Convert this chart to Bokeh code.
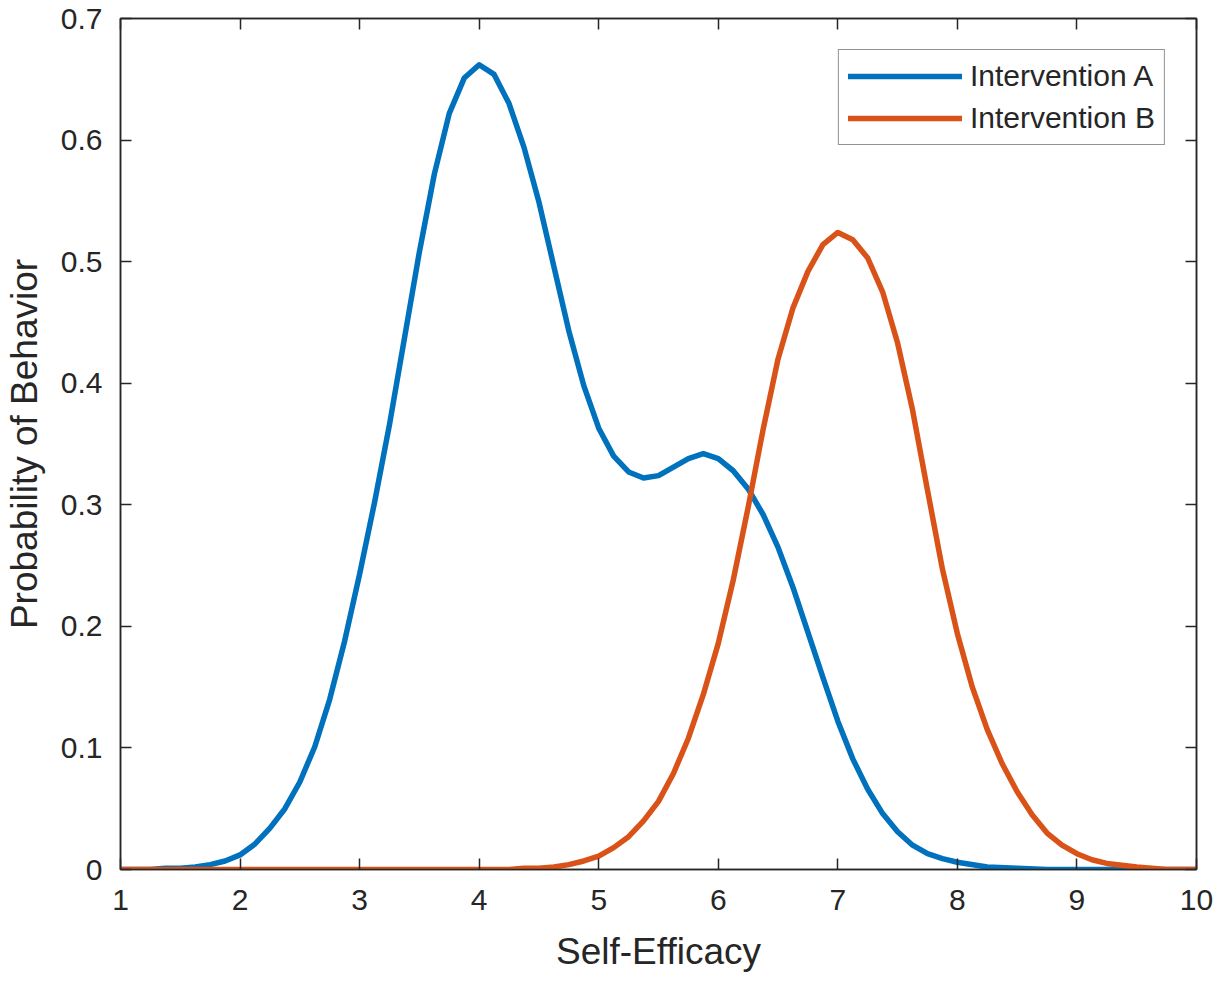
from bokeh.plotting import figure
from bokeh.models import Range1d, FixedTicker, LinearAxis, Legend, LegendItem
from bokeh.embed import file_html
from bokeh.resources import INLINE

# ---- data ----
x_a = [1.0, 1.125, 1.25, 1.375, 1.5, 1.625, 1.75, 1.875, 2.0, 2.125, 2.25, 2.375, 2.5, 2.625,
       2.75, 2.875, 3.0, 3.125, 3.25, 3.375, 3.5, 3.625, 3.75, 3.875, 4.0, 4.125, 4.25, 4.375,
       4.5, 4.625, 4.75, 4.875, 5.0, 5.125, 5.25, 5.375, 5.5, 5.625, 5.75, 5.875, 6.0, 6.125,
       6.25, 6.375, 6.5, 6.625, 6.75, 6.875, 7.0, 7.125, 7.25, 7.375, 7.5, 7.625, 7.75, 7.875,
       8.0, 8.25, 8.5, 8.75, 9.0, 9.5, 10.0]
y_a = [0.000, 0.000, 0.000, 0.001, 0.001, 0.002, 0.004, 0.007, 0.012, 0.021, 0.034, 0.050,
       0.072, 0.101, 0.140, 0.188, 0.243, 0.302, 0.366, 0.437, 0.508, 0.572, 0.622, 0.651,
       0.662, 0.654, 0.630, 0.594, 0.549, 0.496, 0.443, 0.398, 0.363, 0.340, 0.327, 0.322,
       0.324, 0.331, 0.338, 0.342, 0.338, 0.328, 0.313, 0.292, 0.265, 0.232, 0.195, 0.158,
       0.122, 0.091, 0.066, 0.046, 0.031, 0.020, 0.013, 0.009, 0.006, 0.002, 0.001, 0.000,
       0.000, 0.000, 0.000]

x_b = [1.0, 2.0, 3.0, 4.0, 4.25, 4.375, 4.5, 4.625, 4.75, 4.875, 5.0, 5.125, 5.25, 5.375,
       5.5, 5.625, 5.75, 5.875, 6.0, 6.125, 6.25, 6.375, 6.5, 6.625, 6.75, 6.875, 7.0, 7.125,
       7.25, 7.375, 7.5, 7.625, 7.75, 7.875, 8.0, 8.125, 8.25, 8.375, 8.5, 8.625, 8.75, 8.875,
       9.0, 9.125, 9.25, 9.5, 9.75, 10.0]
y_b = [0.0, 0.0, 0.0, 0.000, 0.000, 0.001, 0.001, 0.002, 0.004, 0.007, 0.011, 0.018, 0.027,
       0.040, 0.056, 0.079, 0.108, 0.144, 0.186, 0.238, 0.298, 0.362, 0.420, 0.462, 0.492,
       0.514, 0.524, 0.518, 0.503, 0.475, 0.433, 0.378, 0.312, 0.247, 0.194, 0.150, 0.115,
       0.087, 0.064, 0.045, 0.030, 0.020, 0.013, 0.008, 0.005, 0.002, 0.000, 0.000]

series_names = ["Intervention A", "Intervention B"]
x_ticks = [1, 2, 3, 4, 5, 6, 7, 8, 9, 10]
y_ticks = [0, 0.1, 0.2, 0.3, 0.4, 0.5, 0.6, 0.7]

BLUE = "#0072BD"
ORANGE = "#D95319"
TXT = "#262626"
FONT = "Liberation Sans"

p = figure(width=1213, height=981, output_backend="svg", toolbar_location=None,
           x_range=Range1d(1, 10), y_range=Range1d(0, 0.7),
           min_border_left=120, min_border_right=17, min_border_top=18, min_border_bottom=112)
p.background_fill_color = "white"
p.border_fill_color = "white"
p.outline_line_color = TXT
p.outline_line_width = 1.5
p.grid.visible = False

ra = p.line(x_a, y_a, line_color=BLUE, line_width=5.5, line_join="round", line_cap="round")
rb = p.line(x_b, y_b, line_color=ORANGE, line_width=5.5, line_join="round", line_cap="round")

def style_axis(ax, ticks, show_labels):
    ax.ticker = FixedTicker(ticks=ticks)
    ax.major_tick_in = 11
    ax.major_tick_out = 0
    ax.minor_tick_line_color = None
    ax.major_tick_line_color = TXT
    ax.major_tick_line_width = 1.5
    ax.axis_line_color = TXT
    ax.axis_line_width = 1.5
    ax.major_label_text_font = FONT
    ax.major_label_text_font_size = "30px"
    ax.major_label_text_color = TXT if show_labels else None
    ax.axis_label_text_font = FONT
    ax.axis_label_text_font_size = "37px"
    ax.axis_label_text_font_style = "normal"
    ax.axis_label_text_color = TXT
    ax.axis_label_text_line_height = 1.0
    ax.major_label_text_line_height = 1.0

style_axis(p.xaxis[0], x_ticks, True)
style_axis(p.yaxis[0], y_ticks, True)
p.xaxis[0].axis_label = "Self-Efficacy"
p.yaxis[0].axis_label = "Probability of Behavior"
p.yaxis[0].major_label_overrides = {0: "0"}
p.xaxis[0].major_label_standoff = 20
p.yaxis[0].major_label_standoff = 18
p.xaxis[0].axis_label_standoff = 18
p.yaxis[0].axis_label_standoff = 13

top = LinearAxis()
right = LinearAxis()
style_axis(top, x_ticks, False)
style_axis(right, y_ticks, False)
top.major_label_text_font_size = "0px"
right.major_label_text_font_size = "0px"
top.major_label_standoff = 0
right.major_label_standoff = 0
p.add_layout(top, "above")
p.add_layout(right, "right")

legend = Legend(items=[LegendItem(label=series_names[0], renderers=[ra]),
                       LegendItem(label=series_names[1], renderers=[rb])],
                location="top_right")
legend.margin = 31
legend.padding = 9
legend.spacing = 8
legend.glyph_width = 114
legend.glyph_height = 34
legend.label_height = 34
legend.label_standoff = 8
legend.label_text_font = FONT
legend.label_text_font_size = "30px"
legend.label_text_color = TXT
legend.border_line_color = TXT
legend.border_line_width = 1.5
legend.background_fill_color = "white"
legend.background_fill_alpha = 1.0
p.add_layout(legend)

open("out.html", "w").write(file_html(p, INLINE))
